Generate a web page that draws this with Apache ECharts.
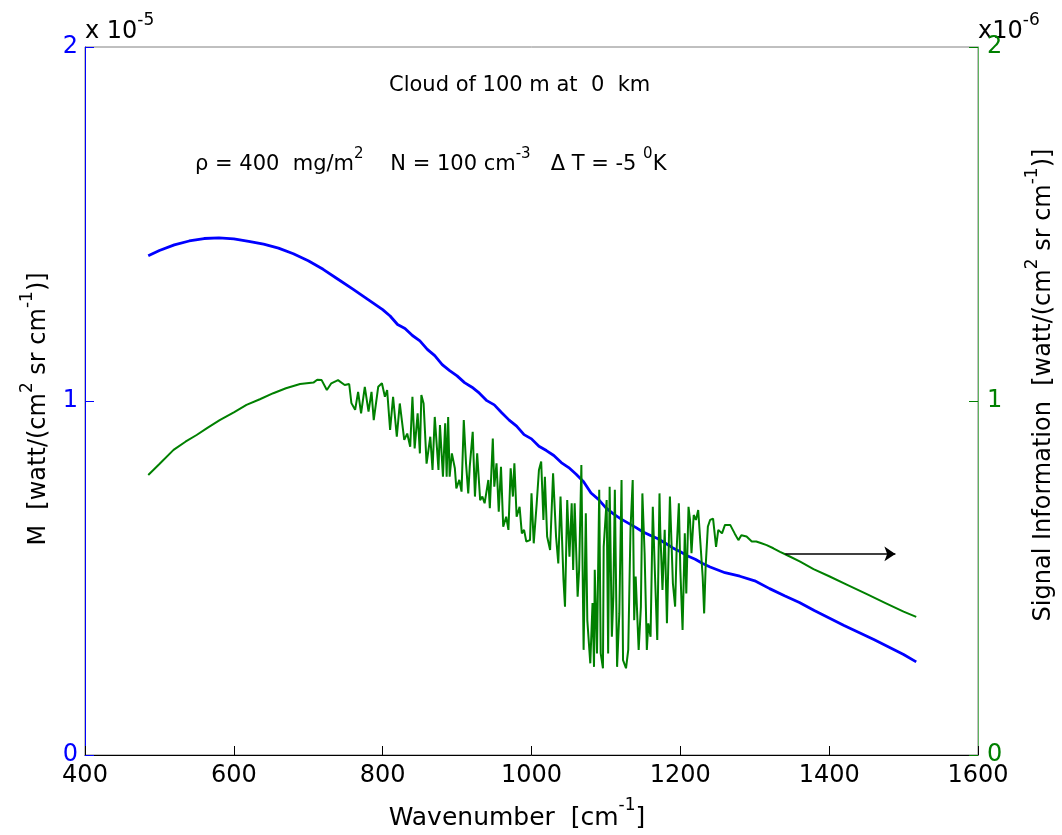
<!DOCTYPE html>
<html><head><meta charset="utf-8">
<script src="https://cdn.jsdelivr.net/npm/echarts@6/dist/echarts.min.js"></script>
<style>html,body{margin:0;padding:0;background:#fff}#c{width:1062px;height:835px}</style>
</head><body><div id="c"></div>
<script>
// x axis ticks (cm^-1)
const xTicks = [400, 600, 800, 1000, 1200, 1400, 1600];
// left axis tick labels (units of 1e-5), right axis tick labels (units of 1e-6)
const leftTicks = [0, 1, 2];
const rightTicks = [0, 1, 2];

// M radiance (x 1e-5 watt/(cm2 sr cm-1))
const mWn = [485,500,520,540,560,580,600,620,640,660,680,700,720,740,760,780,800,810,820,830,840,850,860,870,880,890,900,910,920,930,940,950,960,970,980,990,1000,1010,1020,1030,1040,1050,1060,1070,1080,1090,1100,1110,1120,1130,1140,1150,1160,1170,1180,1190,1200,1210,1220,1230,1240,1260,1280,1300,1320,1340,1360,1380,1400,1420,1440,1460,1480,1500,1517];
const mVal = [1.410,1.425,1.441,1.452,1.459,1.461,1.458,1.451,1.443,1.432,1.416,1.396,1.372,1.344,1.316,1.287,1.258,1.240,1.216,1.205,1.185,1.170,1.146,1.128,1.103,1.086,1.071,1.052,1.039,1.022,1.001,0.989,0.967,0.946,0.929,0.905,0.893,0.872,0.860,0.846,0.826,0.812,0.793,0.772,0.740,0.722,0.698,0.681,0.667,0.655,0.643,0.630,0.620,0.611,0.598,0.585,0.574,0.562,0.553,0.541,0.531,0.515,0.505,0.492,0.470,0.450,0.431,0.408,0.387,0.366,0.346,0.326,0.305,0.284,0.263];

// Signal information (x 1e-6 watt/(cm2 sr cm-1))
const gWn = [485,500,519,535,550,565,581,600,617,635,653,670,689,707,712,718,725,731,740,749,755,758,763,767,771,776,781,785,788,794,799,803,806,810,814,819,823,829,833,837,840,843,847,850,852,855,859,864,867,870,875,877,881,884,886,888,890,893,897,899,903,906,909,912,915,917,921,924,927,931,934,937,942,944,948,950,953,956,959,962,966,969,972,975,977,980,984,987,990,993,998,1000,1003,1007,1010,1013,1016,1018,1021,1025,1029,1033,1036,1039,1043,1045,1048,1051,1054,1056,1058,1062,1064,1067,1070,1073,1075,1079,1082,1084,1085,1088,1091,1093,1096,1097,1101,1103,1105,1108,1110,1112,1115,1118,1121,1123,1127,1130,1133,1136,1138,1140,1144,1147,1149,1152,1155,1157,1160,1163,1166,1169,1172,1173,1176,1179,1182,1186,1190,1193,1195,1198,1200,1203,1206,1208,1211,1213,1215,1218,1221,1224,1227,1230,1232,1234,1237,1240,1244,1248,1251,1256,1260,1267,1273,1278,1282,1289,1296,1302,1309,1316,1325,1334,1343,1361,1379,1400,1425,1450,1475,1500,1517];
const gVal = [0.791,0.822,0.862,0.885,0.904,0.925,0.946,0.968,0.989,1.005,1.022,1.036,1.048,1.052,1.060,1.059,1.031,1.050,1.059,1.045,1.048,0.994,0.975,1.026,0.965,1.040,0.970,1.026,0.946,1.040,1.050,1.012,1.031,0.918,1.012,0.899,0.993,0.890,0.908,0.871,1.012,0.866,0.965,0.852,1.017,0.993,0.823,0.899,0.805,0.955,0.805,0.932,0.786,0.937,0.786,0.955,0.786,0.852,0.810,0.753,0.777,0.744,0.946,0.824,0.739,0.814,0.913,0.730,0.852,0.720,0.730,0.711,0.777,0.697,0.894,0.758,0.824,0.687,0.814,0.645,0.673,0.636,0.810,0.730,0.824,0.673,0.701,0.626,0.636,0.603,0.607,0.739,0.598,0.711,0.805,0.829,0.664,0.786,0.617,0.579,0.796,0.617,0.541,0.730,0.494,0.419,0.720,0.560,0.711,0.523,0.711,0.447,0.523,0.819,0.297,0.683,0.381,0.259,0.429,0.249,0.523,0.287,0.749,0.287,0.245,0.588,0.720,0.287,0.758,0.334,0.447,0.749,0.249,0.400,0.777,0.268,0.245,0.297,0.636,0.777,0.381,0.504,0.297,0.419,0.739,0.570,0.297,0.372,0.334,0.701,0.504,0.325,0.739,0.636,0.466,0.636,0.372,0.730,0.485,0.419,0.579,0.711,0.523,0.353,0.626,0.456,0.701,0.664,0.570,0.678,0.664,0.692,0.598,0.504,0.400,0.532,0.645,0.664,0.668,0.588,0.636,0.626,0.650,0.650,0.626,0.607,0.621,0.617,0.603,0.603,0.598,0.593,0.584,0.574,0.565,0.546,0.525,0.505,0.480,0.455,0.430,0.405,0.390];

// arrow annotation (wavenumber, right-axis value)
const arrowFrom = [1341, 0.568];
const arrowTo = [1489, 0.568];

const FONT = '"DejaVu Sans", Verdana, sans-serif';
const BLUE = '#0000ff', GREEN = '#008000';

const chart = echarts.init(document.getElementById('c'), null, {renderer: 'canvas'});
const supStyle = (c, s, lh) => ({fontSize: s, fontFamily: FONT, color: c, verticalAlign: 'top', lineHeight: lh});
const baseStyle = (c, s, lh) => ({fontSize: s, fontFamily: FONT, color: c, verticalAlign: 'bottom', lineHeight: lh});

chart.setOption({
  animation: false,
  backgroundColor: '#fff',
  grid: {left: 85, right: 84, top: 47, bottom: 80, show: true, borderColor: '#808080', borderWidth: 1, backgroundColor: 'transparent'},
  xAxis: {
    type: 'value', min: xTicks[0], max: xTicks[xTicks.length - 1], interval: 200,
    axisLine: {show: true, lineStyle: {color: '#000', width: 1}},
    axisTick: {show: true, inside: true, length: 9, lineStyle: {color: '#000'}},
    axisLabel: {color: '#000', fontSize: 24, fontFamily: FONT, margin: 9,
      formatter: v => xTicks.includes(v) ? String(v) : ''},
    splitLine: {show: false}
  },
  yAxis: [
    {type: 'value', min: leftTicks[0], max: leftTicks[leftTicks.length - 1], interval: 1, position: 'left',
      axisLine: {show: true, lineStyle: {color: BLUE, width: 1}},
      axisTick: {show: true, inside: true, length: 9, lineStyle: {color: BLUE}},
      axisLabel: {color: BLUE, fontSize: 24, fontFamily: FONT, margin: 7},
      splitLine: {show: false}},
    {type: 'value', min: rightTicks[0], max: rightTicks[rightTicks.length - 1], interval: 1, position: 'right',
      axisLine: {show: true, lineStyle: {color: '#5fb35f', width: 1}},
      axisTick: {show: true, inside: true, length: 9, lineStyle: {color: GREEN}},
      axisLabel: {color: GREEN, fontSize: 24, fontFamily: FONT, margin: 9},
      splitLine: {show: false}}
  ],
  series: [
    {type: 'line', yAxisIndex: 0, showSymbol: false, symbol: 'none', silent: true,
      lineStyle: {color: BLUE, width: 2.8},
      data: mWn.map((w, i) => [w, mVal[i]])},
    {type: 'line', yAxisIndex: 1, showSymbol: false, symbol: 'none', silent: true,
      lineStyle: {color: GREEN, width: 2},
      data: gWn.map((w, i) => [w, gVal[i]]),
      markLine: {silent: true, symbol: ['none', 'arrow'], symbolSize: 11,
        lineStyle: {color: '#000', width: 1.5, type: 'solid'},
        label: {show: false},
        data: [[{coord: arrowFrom}, {coord: arrowTo}]]}}
  ],
  graphic: [
    {type: 'text', left: 389, top: 75, style: {text: 'Cloud of 100 m at  0  km', font: '21px ' + FONT, fill: '#000'}},
    {type: 'text', left: 195, top: 147, style: {
      text: '{b|ρ = 400  mg/m}{s|2}{b|    N = 100 cm}{s|-3}{b|   Δ T = -5 }{s|0}{b|K}',
      rich: {b: baseStyle('#000', 21, 28), s: supStyle('#000', 15, 28)}}},
    {type: 'text', left: 85, top: 12, style: {
      text: '{b|x 10}{s|-5}', rich: {b: baseStyle(BLUE, 24, 32), s: supStyle(BLUE, 17, 32)}}},
    {type: 'text', left: 978, top: 12, style: {
      text: '{b|x10}{s|-6}', rich: {b: baseStyle(GREEN, 24, 32), s: supStyle(GREEN, 17, 32)}}},
    {type: 'text', x: 517, y: 814, style: {
      text: '{b|Wavenumber  [cm}{s|-1}{b|]}', align: 'center', verticalAlign: 'middle',
      rich: {b: baseStyle('#000', 25, 33), s: supStyle('#000', 17, 33)}}},
    {type: 'text', x: 35, y: 409, rotation: Math.PI / 2, style: {
      text: '{b|M  [watt/(cm}{s|2}{b| sr cm}{s|-1}{b|)]}', align: 'center', verticalAlign: 'middle',
      rich: {b: baseStyle(BLUE, 24, 32), s: supStyle(BLUE, 17, 32)}}},
    {type: 'text', x: 1040, y: 385, rotation: Math.PI / 2, style: {
      text: '{b|Signal Information  [watt/(cm}{s|2}{b| sr cm}{s|-1}{b|)]}', align: 'center', verticalAlign: 'middle',
      rich: {b: baseStyle(GREEN, 24, 32), s: supStyle(GREEN, 17, 32)}}}
  ]
});
</script>
</body></html>
